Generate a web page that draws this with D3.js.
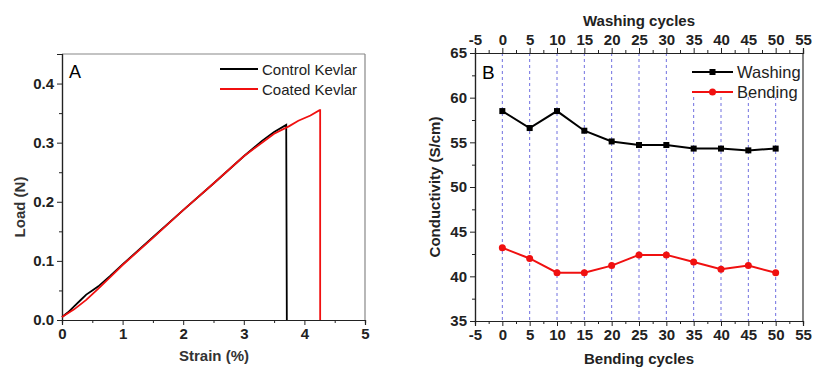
<!DOCTYPE html>
<html>
<head>
<meta charset="utf-8">
<script src="https://cdn.jsdelivr.net/npm/d3@7"></script>
<style>
  body { margin: 0; background: #fff; }
  svg { display: block; font-family: Arial, "Liberation Sans", sans-serif; }
</style>
</head>
<body>
<div id="chart"></div>
<script>
// Panel A: load vs strain
const controlKevlar = [
  [0, 0.005], [0.1, 0.013], [0.2, 0.023], [0.3, 0.033], [0.4, 0.043], [0.5, 0.05],
  [0.6, 0.057], [0.8, 0.075], [1.0, 0.094], [1.5, 0.14], [2.0, 0.186], [2.5, 0.231],
  [3.0, 0.277], [3.3, 0.303], [3.5, 0.318], [3.7, 0.330], [3.71, 0.0]
];
const coatedKevlar = [
  [0, 0.005], [0.2, 0.018], [0.4, 0.034], [0.6, 0.053], [0.8, 0.073], [1.0, 0.093],
  [1.5, 0.139], [2.0, 0.186], [2.5, 0.231], [3.0, 0.277], [3.5, 0.315], [3.75, 0.328],
  [3.9, 0.337], [4.1, 0.346], [4.25, 0.355], [4.26, 0.355], [4.26, 0.0]
];
const strainTicks = [0, 1, 2, 3, 4, 5];
const loadTicks = [0, 0.1, 0.2, 0.3, 0.4];

// Panel B: conductivity vs cycles
const cycles = [0, 5, 10, 15, 20, 25, 30, 35, 40, 45, 50];
const washing = [58.5, 56.6, 58.5, 56.3, 55.1, 54.7, 54.7, 54.3, 54.3, 54.1, 54.3];
const bending = [43.2, 42.0, 40.4, 40.4, 41.2, 42.4, 42.4, 41.6, 40.8, 41.2, 40.4];
const cycleTicks = [-5, 0, 5, 10, 15, 20, 25, 30, 35, 40, 45, 50, 55];
const condTicks = [35, 40, 45, 50, 55, 60, 65];

const W = 814, H = 368;
const svg = d3.select("#chart").append("svg").attr("width", W).attr("height", H);

function minorTicks(lo, hi, step) {
  const out = [];
  for (let v = lo; v <= hi + 1e-9; v += step) out.push(+v.toFixed(4));
  return out;
}
const plain = d => String(d);

// ---------- Panel A ----------
const ax = d3.scaleLinear().domain([0, 5]).range([62, 365]);
const ay = d3.scaleLinear().domain([0, 0.45]).range([320, 54]);

// frame (top/right lighter)
svg.append("line").attr("x1", 62).attr("x2", 365).attr("y1", 54).attr("y2", 54).attr("stroke", "#888").attr("stroke-width", 1.2);
svg.append("line").attr("x1", 365).attr("x2", 365).attr("y1", 54).attr("y2", 320).attr("stroke", "#888").attr("stroke-width", 1.2);

svg.append("g").attr("transform", "translate(0,320)")
  .call(d3.axisBottom(ax).tickValues(strainTicks).tickSize(5).tickFormat(plain));
svg.append("g").attr("transform", "translate(0,320)")
  .call(d3.axisBottom(ax).tickValues(minorTicks(0.5, 4.5, 1)).tickSize(3).tickFormat(""));
svg.append("g").attr("transform", "translate(62,0)")
  .call(d3.axisLeft(ay).tickValues(loadTicks).tickSize(5).tickFormat(d3.format(".1f")));
svg.append("g").attr("transform", "translate(62,0)")
  .call(d3.axisLeft(ay).tickValues([0.05, 0.15, 0.25, 0.35]).tickSize(3).tickFormat(""));

const lineA = d3.line().x(d => ax(d[0])).y(d => ay(d[1]));
svg.append("path").datum(controlKevlar).attr("d", lineA).attr("fill", "none").attr("stroke", "#000").attr("stroke-width", 1.8);
svg.append("path").datum(coatedKevlar).attr("d", lineA).attr("fill", "none").attr("stroke", "#f01010").attr("stroke-width", 1.8);

svg.append("text").attr("x", 69).attr("y", 78).attr("font-size", 18).text("A");
svg.append("line").attr("x1", 220).attr("x2", 258).attr("y1", 69).attr("y2", 69).attr("stroke", "#000").attr("stroke-width", 1.8);
svg.append("line").attr("x1", 220).attr("x2", 258).attr("y1", 89).attr("y2", 89).attr("stroke", "#f01010").attr("stroke-width", 1.8);
svg.append("text").attr("x", 262).attr("y", 74.5).attr("font-size", 15).attr("fill", "#222").text("Control Kevlar");
svg.append("text").attr("x", 262).attr("y", 94.5).attr("font-size", 15).attr("fill", "#222").text("Coated Kevlar");

svg.append("text").attr("x", 214).attr("y", 361).attr("text-anchor", "middle")
  .attr("font-size", 15).attr("font-weight", "bold").attr("fill", "#333").text("Strain (%)");
svg.append("text").attr("transform", "translate(25,207) rotate(-90)").attr("text-anchor", "middle")
  .attr("font-size", 15).attr("font-weight", "bold").attr("fill", "#333").text("Load (N)");

// ---------- Panel B ----------
const bx = d3.scaleLinear().domain([-5, 55]).range([475, 803]);
const by = d3.scaleLinear().domain([35, 65]).range([321, 53]);

// legend background area hides grid lines
const gridTop = c => (c >= 35 ? 97 : 53);
svg.append("g").selectAll("line").data(cycles).join("line")
  .attr("x1", d => bx(d)).attr("x2", d => bx(d))
  .attr("y1", d => gridTop(d)).attr("y2", 321)
  .attr("stroke", "#7070e0").attr("stroke-width", 1).attr("stroke-dasharray", "3,3");

svg.append("line").attr("x1", 803).attr("x2", 803).attr("y1", 53).attr("y2", 321).attr("stroke", "#333").attr("stroke-width", 1.2);

svg.append("g").attr("transform", "translate(0,321)")
  .call(d3.axisBottom(bx).tickValues(cycleTicks).tickSize(5).tickFormat(plain));
svg.append("g").attr("transform", "translate(0,321)")
  .call(d3.axisBottom(bx).tickValues(minorTicks(-2.5, 52.5, 5)).tickSize(3).tickFormat(""));
svg.append("g").attr("transform", "translate(0,53)")
  .call(d3.axisTop(bx).tickValues(cycleTicks).tickSize(5).tickFormat(plain));
svg.append("g").attr("transform", "translate(0,53)")
  .call(d3.axisTop(bx).tickValues(minorTicks(-2.5, 52.5, 5)).tickSize(3).tickFormat(""));
svg.append("g").attr("transform", "translate(475,0)")
  .call(d3.axisLeft(by).tickValues(condTicks).tickSize(5).tickFormat(plain));
svg.append("g").attr("transform", "translate(475,0)")
  .call(d3.axisLeft(by).tickValues(minorTicks(37.5, 62.5, 5)).tickSize(3).tickFormat(""));

const lineB = vals => d3.line().x((d, i) => bx(cycles[i])).y(d => by(d))(vals);
svg.append("path").attr("d", lineB(washing)).attr("fill", "none").attr("stroke", "#000").attr("stroke-width", 2);
svg.append("path").attr("d", lineB(bending)).attr("fill", "none").attr("stroke", "#f01010").attr("stroke-width", 2);
svg.append("g").selectAll("rect").data(washing).join("rect")
  .attr("x", (d, i) => bx(cycles[i]) - 3).attr("y", d => by(d) - 3)
  .attr("width", 6).attr("height", 6).attr("fill", "#000");
svg.append("g").selectAll("circle").data(bending).join("circle")
  .attr("cx", (d, i) => bx(cycles[i])).attr("cy", d => by(d)).attr("r", 3.5).attr("fill", "#f01010");

svg.append("text").attr("x", 482).attr("y", 79).attr("font-size", 19).text("B");
svg.append("line").attr("x1", 692).attr("x2", 733).attr("y1", 72).attr("y2", 72).attr("stroke", "#000").attr("stroke-width", 2);
svg.append("rect").attr("x", 709.5).attr("y", 69).attr("width", 6).attr("height", 6).attr("fill", "#000");
svg.append("line").attr("x1", 692).attr("x2", 733).attr("y1", 92).attr("y2", 92).attr("stroke", "#f01010").attr("stroke-width", 2);
svg.append("circle").attr("cx", 712.5).attr("cy", 92).attr("r", 3.5).attr("fill", "#f01010");
svg.append("text").attr("x", 737).attr("y", 78).attr("font-size", 16.5).attr("fill", "#222").text("Washing");
svg.append("text").attr("x", 737).attr("y", 98).attr("font-size", 16.5).attr("fill", "#222").text("Bending");

svg.append("text").attr("x", 639).attr("y", 26).attr("text-anchor", "middle")
  .attr("font-size", 15).attr("font-weight", "bold").attr("fill", "#222").text("Washing cycles");
svg.append("text").attr("x", 639).attr("y", 364).attr("text-anchor", "middle")
  .attr("font-size", 15).attr("font-weight", "bold").attr("fill", "#222").text("Bending cycles");
svg.append("text").attr("transform", "translate(440,187) rotate(-90)").attr("text-anchor", "middle")
  .attr("font-size", 15).attr("font-weight", "bold").attr("fill", "#222").text("Conductivity (S/cm)");

// common axis styling
svg.selectAll(".domain").attr("stroke", "#222").attr("stroke-width", 1.2);
svg.selectAll(".tick line").attr("stroke", "#222");
svg.selectAll(".tick text").attr("font-size", 15).attr("font-weight", "bold").attr("fill", "#222")
  .attr("font-family", "Arial, 'Liberation Sans', sans-serif");
</script>
</body>
</html>
